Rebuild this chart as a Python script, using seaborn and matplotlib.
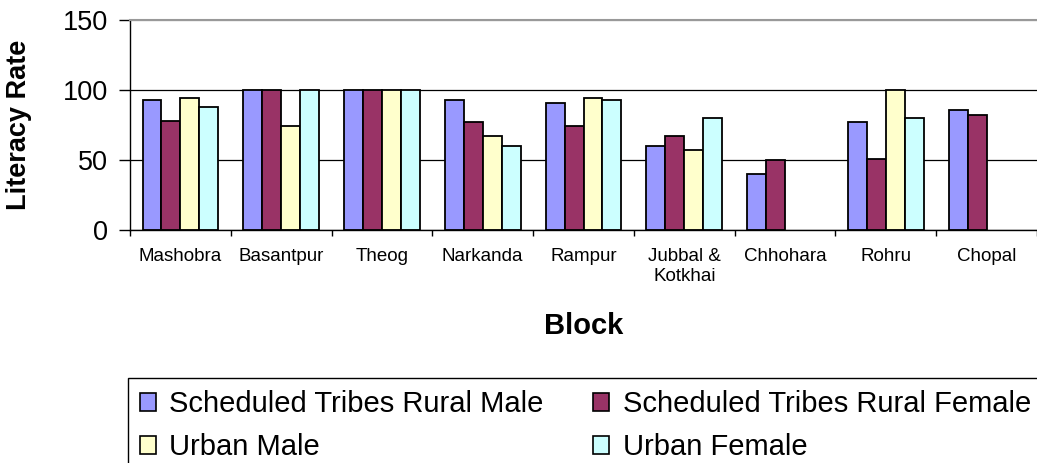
import numpy as np
import pandas as pd
import matplotlib
matplotlib.use('Agg')
import matplotlib.pyplot as plt
import seaborn as sns
from matplotlib.patches import Patch

# values
blocks = ['Mashobra', 'Basantpur', 'Theog', 'Narkanda', 'Rampur',
          'Jubbal &\nKotkhai', 'Chhohara', 'Rohru', 'Chopal']
st_rural_male = [93, 100, 100, 93, 91, 60, 40, 77, 85.5]
st_rural_female = [78, 100, 100, 77, 74, 67, 50, 51, 82.5]
urban_male = [94, 74, 100, 67, 94, 57, np.nan, 100, np.nan]
urban_female = [88, 100, 100, 60, 93, 80, np.nan, 80, np.nan]

series_names = ['Scheduled Tribes Rural Male', 'Scheduled Tribes Rural Female',
                'Urban Male', 'Urban Female']
colors = ['#9999FF', '#993366', '#FFFFCC', '#CCFFFF']

# long form table for seaborn
df = pd.DataFrame({'Block': blocks,
                   series_names[0]: st_rural_male,
                   series_names[1]: st_rural_female,
                   series_names[2]: urban_male,
                   series_names[3]: urban_female})
long_df = df.melt(id_vars='Block', var_name='Series', value_name='Rate').dropna()

sns.set_theme(style='white')
plt.rcParams['font.family'] = ['Liberation Sans', 'DejaVu Sans']
plt.rcParams['text.color'] = 'black'

fig = plt.figure(figsize=(10.37, 4.63), dpi=100)
ax = fig.add_axes([130 / 1037, 1 - 230 / 463, 907 / 1037, 210 / 463])

sns.barplot(data=long_df, x='Block', y='Rate', hue='Series',
            order=blocks, hue_order=series_names, palette=colors,
            saturation=1, width=0.75, edgecolor='black', linewidth=1.3,
            legend=False, ax=ax)

ax.set_xlim(-0.5, len(blocks) - 0.5)
ax.set_ylim(0, 150)
ax.set_yticks([0, 50, 100, 150])

ax.set_axisbelow(True)
ax.yaxis.grid(True, color='black', linewidth=0.9)
ax.get_ygridlines()[-1].set_color('#999999')

for side in ['left', 'bottom']:
    ax.spines[side].set_color('black')
    ax.spines[side].set_linewidth(1.0)
ax.spines['top'].set_color('#999999')
ax.spines['top'].set_linewidth(1.5)
ax.spines['right'].set_visible(False)

# category labels centred, tick marks on the group boundaries
ax.tick_params(axis='x', which='major', length=0, pad=13, labelsize=13.5, colors='black')
ax.set_xticks(np.arange(-0.5, len(blocks)), minor=True)
ax.tick_params(axis='x', which='minor', bottom=True, direction='out',
               length=4, width=1.0, color='black')
ax.tick_params(axis='y', left=True, direction='out', length=8, width=1.0,
               pad=8, labelsize=19.5, color='black', labelcolor='black')

ax.set_xlabel('Block', fontsize=21, fontweight='bold', color='black')
ax.xaxis.set_label_coords(0.5, -0.39)
ax.set_ylabel('Literacy Rate', fontsize=19.5, fontweight='bold', color='black')
ax.yaxis.set_label_coords(-0.1085, 0.5)

# legend reads row by row in the reference
order = [0, 2, 1, 3]
handles = [Patch(facecolor=colors[i], edgecolor='black', linewidth=1.2) for i in order]
labels = [series_names[i] for i in order]
leg = fig.legend(handles, labels, loc='upper left',
                 bbox_to_anchor=(128 / 1037, 1 - 378 / 463),
                 bbox_transform=fig.transFigure, ncol=2, fontsize=21,
                 frameon=True, fancybox=False, edgecolor='black', framealpha=1,
                 borderaxespad=0, borderpad=0.42, handlelength=0.55, handleheight=0.55,
                 handletextpad=0.45, columnspacing=1.7, labelspacing=0.52)
leg.get_frame().set_linewidth(1.0)

fig.savefig('out.png', dpi=100)
